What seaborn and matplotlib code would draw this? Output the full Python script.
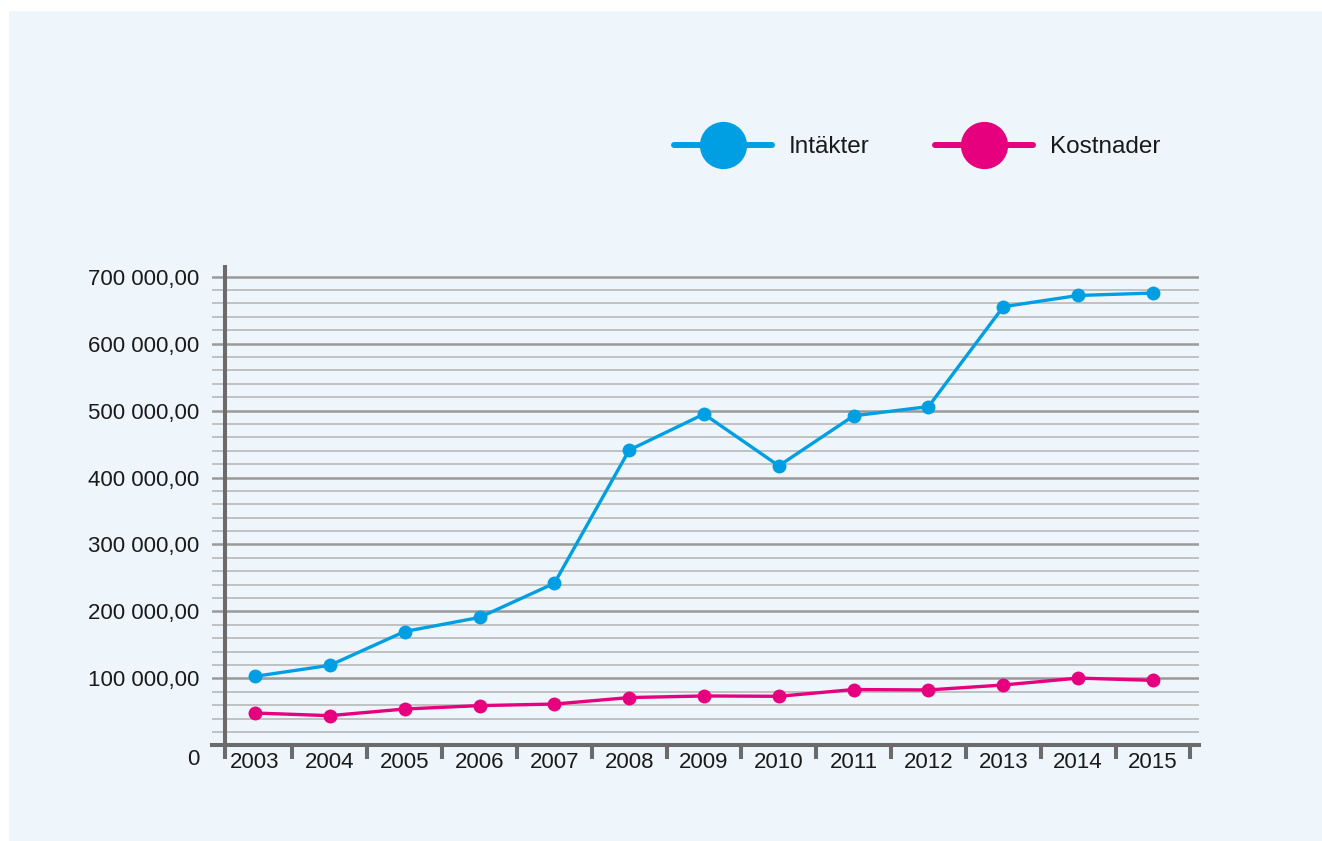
import pandas as pd
import numpy as np
import matplotlib
matplotlib.use('Agg')
import matplotlib.pyplot as plt
import matplotlib.transforms as mtransforms
from matplotlib.lines import Line2D
from matplotlib.patches import Rectangle
import seaborn as sns

# data
years = ['2003', '2004', '2005', '2006', '2007', '2008', '2009',
         '2010', '2011', '2012', '2013', '2014', '2015']
intakter = [103000, 119500, 170000, 191000, 242000, 441000, 494800,
            417500, 492200, 506000, 655200, 672000, 675600]
kostnader = [48200, 44300, 54200, 59300, 61600, 71300, 73700,
             73200, 83300, 82700, 90100, 100400, 97000]
series_names = ['Intäkter', 'Kostnader']
y_major = [0, 100000, 200000, 300000, 400000, 500000, 600000, 700000]
y_labels = ['0', '100 000,00', '200 000,00', '300 000,00', '400 000,00',
            '500 000,00', '600 000,00', '700 000,00']

BLUE = '#009FE3'
PINK = '#E6007E'
PANEL = '#EEF6FC'
SPINE = '#6b6b6b'

df = pd.DataFrame({
    'year': years * 2,
    'value': intakter + kostnader,
    'serie': [series_names[0]] * len(years) + [series_names[1]] * len(years),
})

sns.set_theme(style='white')
plt.rcParams['font.family'] = ['Liberation Sans', 'DejaVu Sans']

W, H = 1322, 841
fig = plt.figure(figsize=(W / 100, H / 100), dpi=100, facecolor='white')
fig.patches.append(Rectangle((9 / W, 0), 1 - 9 / W, 1 - 11 / H,
                             transform=fig.transFigure, facecolor=PANEL,
                             edgecolor='none', zorder=-10))

ax = fig.add_axes([212 / W, 1 - 745.3 / H, (1199 - 212) / W, (745.3 - 265) / H])
ax.set_facecolor('none')

sns.lineplot(data=df, x='year', y='value', hue='serie', ax=ax,
             palette=[BLUE, PINK], marker='o', markersize=10,
             markeredgewidth=0, linewidth=2.4, legend=False, zorder=5)

ax.set_xlim(-0.575, 12.615)
ax.set_ylim(0, 717500)

# grid
ax.set_yticks(y_major)
ax.set_yticks(np.arange(0, 717500, 20000), minor=True)
ax.yaxis.grid(True, which='minor', color='#bdbdbd', linewidth=1.3, zorder=0)
ax.yaxis.grid(True, which='major', color='#9a9a9a', linewidth=1.8, zorder=1)
ax.xaxis.grid(False)
ax.set_axisbelow(True)

ax.set_yticklabels(y_labels, fontsize=16, color='#1a1a1a')
ax.tick_params(axis='y', which='both', length=0, pad=9)
# the "0" label sits a bit lower than its gridline
zero = ax.get_yticklabels()[0]
zero.set_transform(zero.get_transform() +
                   mtransforms.ScaledTranslation(0, -0.12, fig.dpi_scale_trans))

# x ticks: labels at the centers, marks at the boundaries
ax.set_xticks(range(len(years)))
ax.set_xticklabels(years, fontsize=16, color='#1a1a1a')
ax.set_xticks([-0.405] + [i + 0.5 for i in range(len(years))], minor=True)
ax.tick_params(axis='x', which='major', bottom=True, length=0, pad=5)
ax.tick_params(axis='x', which='minor', bottom=True, direction='out',
               length=10, width=2.9, color=SPINE)

for s in ['top', 'right', 'left']:
    ax.spines[s].set_visible(False)
ax.spines['bottom'].set_color(SPINE)
ax.spines['bottom'].set_linewidth(2.9)
ax.axvline(-0.405, color=SPINE, linewidth=2.9, zorder=3)

ax.set_xlabel('')
ax.set_ylabel('')

handles = [Line2D([], [], color=c, linewidth=4.3, marker='o', markersize=34,
                  markeredgewidth=0) for c in [BLUE, PINK]]
fig.legend(handles, series_names, loc='center left',
           bbox_to_anchor=(674 / W, 1 - 147 / H), ncol=2, frameon=False,
           fontsize=17.5, handlelength=4.03, handletextpad=0.7,
           columnspacing=2.67, borderaxespad=0, borderpad=0,
           labelcolor='#1a1a1a')

plt.savefig('out.png', dpi=100, facecolor='white')
